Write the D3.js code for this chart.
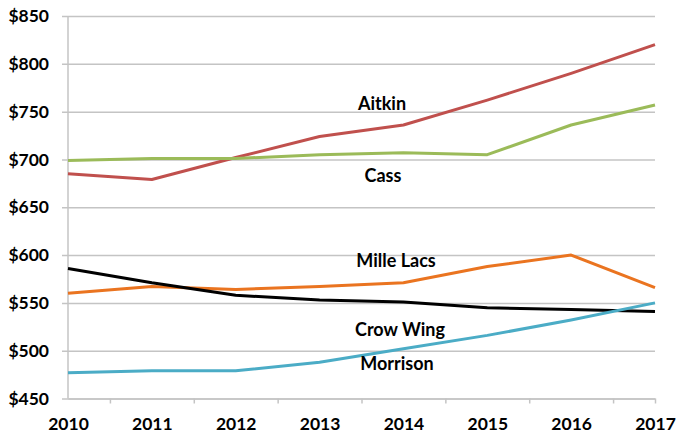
<!DOCTYPE html>
<html>
<head>
<meta charset="utf-8">
<script src="https://cdn.jsdelivr.net/npm/d3@7"></script>
<style>
  body { margin: 0; background: #fff; }
  text { font-family: Lato, "Open Sans", sans-serif; font-weight: bold; fill: #000; }
</style>
</head>
<body>
<div id="svganchor"></div>
<script>
let width = 676;
let height = 433;
let margin = ({top: 16, right: 21, bottom: 34.5, left: 68});

// Data
let years = [2010, 2011, 2012, 2013, 2014, 2015, 2016, 2017];
let aitkin    = [685, 679, 702, 724, 736, 762, 790, 820];
let cass      = [699, 701, 701, 705, 707, 705, 736, 757];
let milleLacs = [560, 567, 564, 567, 571, 588, 600, 566];
let crowWing  = [586, 571, 558, 553, 551, 545, 543, 541];
let morrison  = [477, 479, 479, 488, 502, 516, 532, 550];
let yTicks = [450, 500, 550, 600, 650, 700, 750, 800, 850];

let series = [
    {name: "Aitkin",    values: aitkin,    color: "#c0504d", lx: 382, ly: 110},
    {name: "Cass",      values: cass,      color: "#9bbb59", lx: 383, ly: 182},
    {name: "Mille Lacs",values: milleLacs, color: "#ea7420", lx: 396, ly: 267},
    {name: "Crow Wing", values: crowWing,  color: "#000000", lx: 400, ly: 336},
    {name: "Morrison",  values: morrison,  color: "#4bacc6", lx: 397, ly: 370}
];

let svg = d3.select("#svganchor")
    .append("svg")
    .attr("width", width)
    .attr("height", height);

let xScale = d3.scaleLinear()
    .domain([2010, 2017])
    .range([margin.left, width - margin.right]);

let yScale = d3.scaleLinear()
    .domain([450, 850])
    .range([height - margin.bottom, margin.top]);

// Gridlines + y labels
let yAxis = svg.append("g")
    .attr("transform", "translate(" + (margin.left - 6) + ",0)")
    .call(d3.axisLeft(yScale)
        .tickValues(yTicks)
        .tickFormat(d => "$" + d)
        .tickSize(-(width - margin.right - margin.left + 6))
        .tickPadding(13));
yAxis.select(".domain").remove();
yAxis.selectAll(".tick line").attr("stroke", "#c4c4c4").attr("stroke-width", 1.5);
yAxis.selectAll(".tick text").style("font-size", "17.5px");

// Left axis line
svg.append("line")
    .attr("x1", margin.left).attr("x2", margin.left)
    .attr("y1", margin.top).attr("y2", height - margin.bottom)
    .attr("stroke", "#c4c4c4").attr("stroke-width", 1.5);

// X tick marks sit between the years
let midTicks = years.slice(0, -1).map(d => d + 0.5).concat([2017]);
let xTicks = svg.append("g")
    .attr("transform", "translate(0," + (height - margin.bottom) + ")")
    .call(d3.axisBottom(xScale).tickValues(midTicks).tickFormat("").tickSize(5).tickSizeOuter(0));
xTicks.select(".domain").attr("stroke", "#c4c4c4").attr("stroke-width", 1.5);
xTicks.selectAll(".tick line").attr("stroke", "#c4c4c4").attr("stroke-width", 1.5);

// Year labels
let xLabels = svg.append("g")
    .attr("transform", "translate(0," + (height - margin.bottom) + ")")
    .call(d3.axisBottom(xScale).tickValues(years).tickFormat(d3.format("d")).tickSize(0).tickPadding(19));
xLabels.select(".domain").remove();
xLabels.selectAll(".tick text").style("font-size", "17.5px");

let line = d3.line()
    .x((d, i) => xScale(years[i]))
    .y(d => yScale(d));

svg.selectAll(".series")
    .data(series)
    .enter()
    .append("path")
    .attr("class", "series")
    .attr("fill", "none")
    .attr("stroke", d => d.color)
    .attr("stroke-width", 3)
    .attr("stroke-linejoin", "round")
    .attr("d", d => line(d.values));

svg.selectAll(".label")
    .data(series)
    .enter()
    .append("text")
    .attr("class", "label")
    .attr("x", d => d.lx)
    .attr("y", d => d.ly)
    .attr("text-anchor", "middle")
    .style("font-size", "18px")
    .text(d => d.name);
</script>
</body>
</html>
